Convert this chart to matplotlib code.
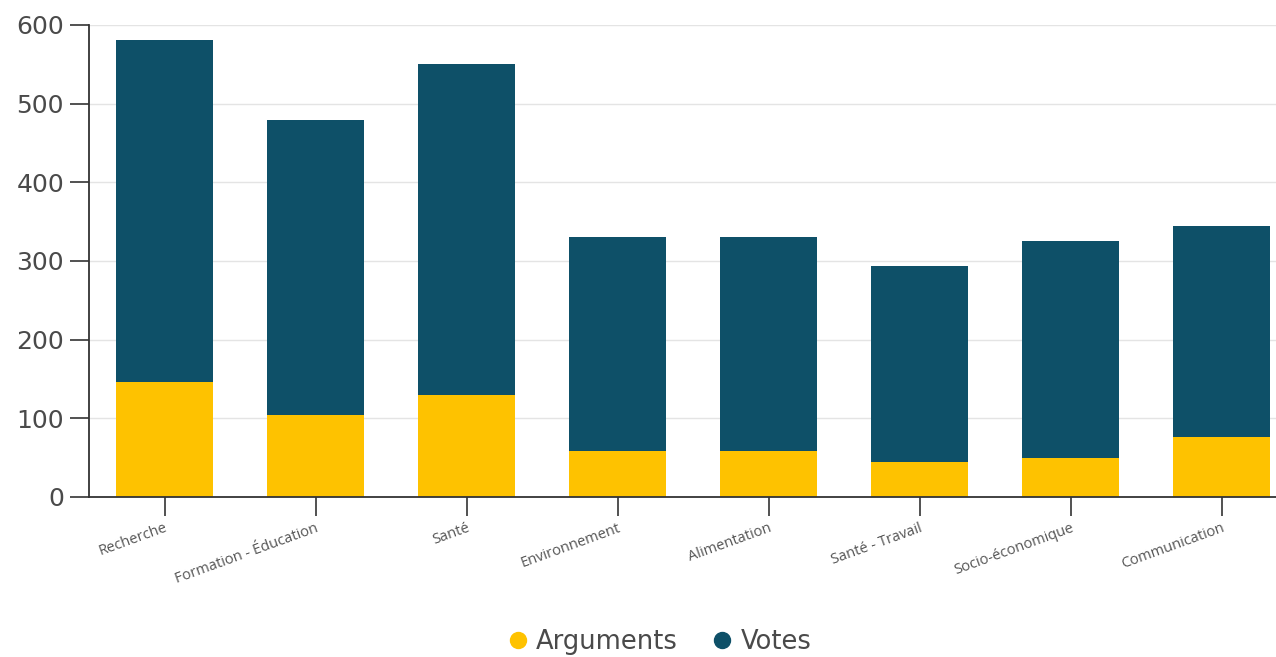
import matplotlib
matplotlib.use("Agg")
import matplotlib.pyplot as plt
import numpy as np
from matplotlib.lines import Line2D

categories = ["Recherche", "Formation - Éducation", "Santé", "Environnement",
              "Alimentation", "Santé - Travail", "Socio-économique", "Communication"]
arguments = [146, 104, 130, 58, 58, 44, 49, 76]
votes = [435, 375, 420, 272, 272, 250, 276, 268]
yticks = [0, 100, 200, 300, 400, 500, 600]

c_arg = "#FEC200"
c_vote = "#0E5068"
txt = "#4a4a4a"

fig = plt.figure(figsize=(12.76, 6.57), dpi=100)
ax = fig.add_axes([89/1276, 1-497/657, 1-89/1276, (497-25)/657])

x = np.arange(len(categories))
ax.bar(x, arguments, width=0.64, color=c_arg, zorder=3)
ax.bar(x, votes, width=0.64, bottom=arguments, color=c_vote, zorder=3)

ax.set_ylim(0, 600)
ax.set_xlim(-0.5, 7.36)
ax.set_yticks(yticks)
ax.set_yticklabels([str(v) for v in yticks], fontsize=18, color=txt, family="DejaVu Sans")
ax.set_xticks(x)
ax.set_xticklabels(categories, rotation=20, ha="right", rotation_mode="anchor",
                   fontsize=10.5, color="#555555", family="Open Sans")
ax.tick_params(axis="y", length=14, width=1.2, color="#333333", pad=4)
ax.tick_params(axis="x", length=14, width=1.2, color="#333333", pad=3)
ax.grid(axis="y", color="#e4e4e4", linewidth=1, zorder=0)
for s in ["top", "right"]:
    ax.spines[s].set_visible(False)
for s in ["left", "bottom"]:
    ax.spines[s].set_color("#333333")
    ax.spines[s].set_linewidth(1.3)
ax.spines["left"].set_zorder(4)
ax.spines["bottom"].set_zorder(4)

handles = [Line2D([], [], marker="o", linestyle="", markersize=11.5, color=c_arg),
           Line2D([], [], marker="o", linestyle="", markersize=11.5, color=c_vote)]
fig.legend(handles, ["Arguments", "Votes"], loc="center", bbox_to_anchor=(660/1276, 1-642/657),
           ncol=2, frameon=False, handlelength=0.7, handletextpad=0.35, columnspacing=1.4,
           labelcolor=txt, prop={"family": "DejaVu Sans", "size": 18.5})

fig.savefig("out.png", dpi=100)
